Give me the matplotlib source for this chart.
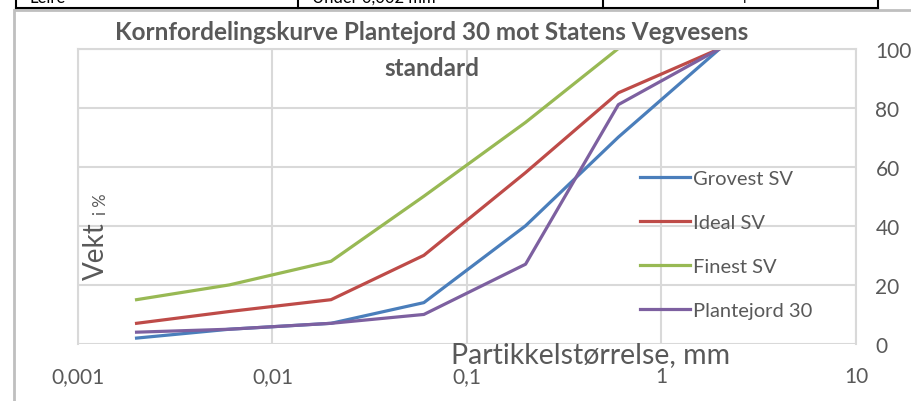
import numpy as np
import matplotlib.pyplot as plt
from matplotlib.patches import Rectangle
from matplotlib.lines import Line2D

# kornstørrelse (mm) og gjennomgang (%)
sizes = [0.002, 0.006, 0.02, 0.06, 0.2, 0.6, 2]
grovest = [2, 5, 7, 14, 40, 70, 100]
ideal = [7, 11, 15, 30, 58, 85, 100]
finest = [15, 20, 28, 50, 75, 100]
plantejord = [4, 5, 7, 10, 27, 81, 100]

xticks = [0.001, 0.01, 0.1, 1, 10]
xticklabels = ["0,001", "0,01", "0,1", "1", "10"]
yticks = [0, 20, 40, 60, 80, 100]

W, H = 912, 402
plt.rcParams['font.family'] = ['Lato', 'DejaVu Sans']
grey = '#595959'
gridc = '#d9d9d9'

fig = plt.figure(figsize=(W / 100, H / 100), dpi=100)

def fx(px):
    return px / W

def fy(py):
    return 1 - py / H

# chart frame
fig.patches.append(Rectangle((fx(14), fy(420)), fx(920 - 14), fy(11) - fy(420),
                             transform=fig.transFigure, fill=False,
                             edgecolor='#bfbfbf', lw=2))

# table row cut off at the top
fig.add_artist(Line2D([fx(16), fx(878)], [fy(9), fy(9)], color='black', lw=1.5,
                      transform=fig.transFigure))
for xv in [16, 298, 603, 878]:
    fig.add_artist(Line2D([fx(xv), fx(xv)], [fy(9), fy(-2)], color='black', lw=1.5,
                          transform=fig.transFigure))
fig.text(fx(30), fy(6), "Leire", fontsize=12, va='bottom', color='black')
fig.text(fx(312), fy(6), "Under 0,002 mm", fontsize=12, va='bottom', color='black')
fig.text(fx(738), fy(6), "4", fontsize=12, va='bottom', color='black')

ax = fig.add_axes([fx(78), fy(345), fx(856 - 78), fy(49.5) - fy(345)])
ax.set_xscale('log')
ax.set_xlim(0.001, 10)
ax.set_ylim(0, 100)

ax.plot(sizes, grovest, color='#4a7ebb', lw=2.3, label='Grovest SV', solid_joinstyle='round')
ax.plot(sizes, ideal, color='#be4b48', lw=2.3, label='Ideal SV', solid_joinstyle='round')
ax.plot(sizes[:len(finest)], finest, color='#98b954', lw=2.3, label='Finest SV', solid_joinstyle='round')
ax.plot(sizes, plantejord, color='#7d60a0', lw=2.3, label='Plantejord 30', solid_joinstyle='round')

ax.set_xticks(xticks)
ax.set_xticklabels(xticklabels)
ax.xaxis.set_minor_locator(plt.NullLocator())
ax.set_yticks(yticks)
ax.yaxis.tick_right()
ax.tick_params(axis='both', length=0, labelsize=15, colors=grey)
ax.tick_params(axis='x', pad=16)
ax.tick_params(axis='y', pad=14)
ax.grid(True, color=gridc, lw=1.5)
ax.set_axisbelow(True)
for s in ['left', 'right', 'top']:
    ax.spines[s].set_color(gridc)
    ax.spines[s].set_linewidth(1.5)
ax.spines['bottom'].set_visible(False)

ax.text(0.659, -0.035, "Partikkelstørrelse, mm", transform=ax.transAxes,
        ha='center', va='center', fontsize=20.5, color=grey)
ax.text(0.023, 0.22, "Vekt", transform=ax.transAxes, rotation=90,
        ha='center', va='bottom', fontsize=20, color=grey)
ax.text(0.0296, 0.44, "i %", transform=ax.transAxes, rotation=90,
        ha='center', va='bottom', fontsize=12, color=grey)

fig.text(fx(432), fy(33), "Kornfordelingskurve Plantejord 30 mot Statens Vegvesens",
         ha='center', va='center', fontsize=17.5, fontweight='bold', color=grey)
fig.text(fx(432), fy(68), "standard",
         ha='center', va='center', fontsize=17.5, fontweight='bold', color=grey)

leg = ax.legend(loc='upper left', bbox_to_anchor=(0.7095, 0.622), frameon=False,
                fontsize=14.5, handlelength=2.5, handletextpad=0.15,
                labelspacing=1.33, borderpad=0)
for t in leg.get_texts():
    t.set_color(grey)

fig.savefig('out.png', dpi=100)
